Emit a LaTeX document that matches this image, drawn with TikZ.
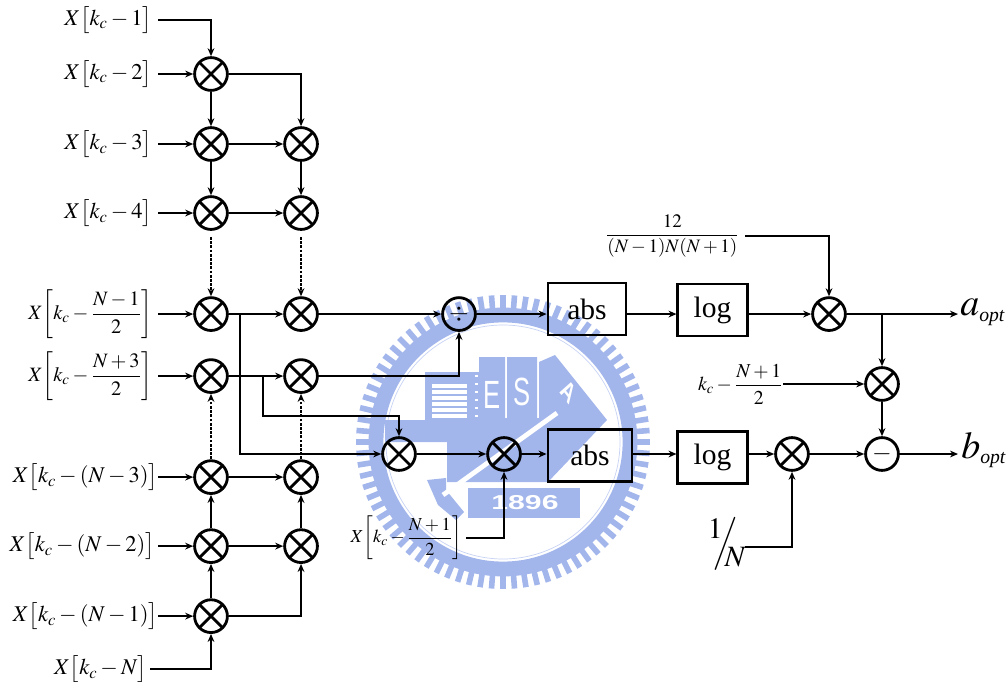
\documentclass[tikz,border=0pt]{standalone}
\usepackage{amsmath}
\usepackage{mathptmx}
\usepackage{fontspec}
\setmainfont{Liberation Serif}
\setsansfont{Liberation Sans}
\usetikzlibrary{positioning, arrows.meta}
\definecolor{sealblue}{RGB}{162,182,236}
\newcommand{\fsize}[1]{\fontsize{#1}{#1}\selectfont}
\begin{document}
\begin{tikzpicture}[
    x=0.025cm, y=-0.025cm,
    on grid,
    >=Stealth,
    mul/.style={draw, circle, inner sep=0pt, minimum size=0.82cm, line width=2pt,
                path picture={\draw[line width=2pt]
                  (path picture bounding box.north west) -- (path picture bounding box.south east)
                  (path picture bounding box.north east) -- (path picture bounding box.south west);}},
    opcirc/.style={draw, circle, inner sep=0pt, minimum size=0.82cm, line width=2pt, font=\fsize{18}},
    block/.style={draw, inner sep=0pt, line width=2pt, font=\fsize{21}, minimum height=1.3cm},
    io/.style={inner sep=0pt, outer xsep=0.15cm, anchor=east, font=\fsize{16}},
    iofrac/.style={io, font=\fsize{14.5}},
    iosmall/.style={inner sep=0pt, outer xsep=0.1cm, anchor=east, font=\fsize{13}},
    arr/.style={draw, -{Stealth[length=0.2cm, width=0.17cm]}, line width=1.8pt},
    dotarr/.style={arr, dash pattern=on 2pt off 1pt},
    seallabel/.style={inner sep=0pt, text=white, font=\sffamily\fsize{28}, xscale=0.65},
]
\useasboundingbox (0,0) rectangle (1006,682);

% --- Seal behind the diagram ---
\begin{scope}[shift={(503,442)}]
  \foreach \a in {0,4.5,...,355.5} {
    \draw[sealblue, line width=0.14cm] (\a:128) -- (\a:147);
  }
  \draw[sealblue, line width=0.37cm] (0,0) circle (127);
  \draw[sealblue!60, line width=0.5pt] (0,0) circle (117);
\end{scope}
\fill[sealblue] (385,420) -- (607,420) -- (555,355) -- (539,362) -- (539,418) -- (537,418)
  -- (537,357) -- (507,357) -- (507,418) -- (505,418) -- (505,357) -- (479,357) -- (479,372)
  -- (425,372) -- (425,420) -- (385,420) -- (385,442) -- (447,442) -- (447,482) -- (548,482) -- (607,420) -- cycle;
\fill[sealblue] (427,480) -- (446,478) -- (446,490) -- (464,512) -- (456,520) -- (438,505) -- cycle;
\fill[sealblue] (468,488) rectangle (580,518);
\foreach \y in {386,392,...,416} {
  \draw[white, line width=0.08cm] (432,\y) -- (467,\y);
}
\foreach \y in {376,384,...,416} {
  \draw[white, line width=0.06cm] (475,\y) -- (478,\y);
}
\draw[white, line width=0.12cm] (443,495) -- (557,413);
\node[seallabel] (sealE) at (492,395) {E};
\node[seallabel] (sealS) at (522,392) {S};
\node[seallabel, rotate=-40, font=\sffamily\bfseries\fsize{20}, xscale=1] (sealA) at (569,392) {A};
\node[seallabel, font=\sffamily\bfseries\fsize{22}, xscale=1.5, yscale=0.65] (sealyear) at (525,503) {1896};

% --- Adder chain, first column ---
\node[mul] (m1) at (211,74) {};
\node[mul, below=1.75cm of m1] (m2) {};
\node[mul, below=1.725cm of m2] (m3) {};
\node[mul, below=2.525cm of m3] (m4) {};
\node[mul, below=1.55cm of m4] (m5) {};
\node[mul, below=2.525cm of m5] (m6) {};
\node[mul, below=1.725cm of m6] (m7) {};
\node[mul, below=1.75cm of m7] (m8) {};

% second column
\node[mul, right=2.25cm of m2] (n2) {};
\node[mul, right=2.25cm of m3] (n3) {};
\node[mul, right=2.25cm of m4] (n4) {};
\node[mul, right=2.25cm of m5] (n5) {};
\node[mul, right=2.25cm of m6] (n6) {};
\node[mul, right=2.25cm of m7] (n7) {};

% --- Inputs ---
\node[io] (x1) at (158,20) {$X\big[k_c-1\big]$};
\node[io] (x2) at (158,0 |- m1) {$X\big[k_c-2\big]$};
\node[io] (x3) at (158,0 |- m2) {$X\big[k_c-3\big]$};
\node[io] (x4) at (158,0 |- m3) {$X\big[k_c-4\big]$};
\node[iofrac] (x5) at (158,0 |- m4) {$X\!\left[k_c-\dfrac{N-1}{2}\right]$};
\node[iofrac] (x6) at (158,0 |- m5) {$X\!\left[k_c-\dfrac{N+3}{2}\right]$};
\node[io, outer xsep=0pt] (x7) at (158,0 |- m6) {$X\big[k_c-(N-3)\big]$};
\node[io, outer xsep=0.08cm] (x8) at (158,0 |- m7) {$X\big[k_c-(N-2)\big]$};
\node[io, outer xsep=0pt] (x9) at (158,0 |- m8) {$X\big[k_c-(N-1)\big]$};
\node[io, outer xsep=0.08cm] (x10) at (150,669) {$X\big[k_c-N\big]$};

% --- Middle ---
\node[opcirc] (div) at (459,0 |- m4) {$\div$};
\node[mul] (s1) at (399,454) {};
\node[mul, right=2.625cm of s1] (s2) {};
\node[iosmall] (xs) at (466,538) {$X\!\left[k_c-\dfrac{N+1}{2}\right]$};

\node[block, minimum width=1.95cm] (abs1) at (587,309) {abs};
\node[block, minimum width=2.1cm] (abs2) at (590,455.5) {abs};
\node[block, minimum width=1.73cm] (log1) at (712.5,310) {log};
\node[block, minimum width=1.73cm] (log2) at (712.5,457.5) {log};

% --- Right side ---
\node[mul] (t1) at (829,0 |- m4) {};
\node[mul] (t2) at (882,384) {};
\node[mul] (t3) at (792,0 |- s1) {};
\node[opcirc] (minus) at (882,0 |- s1) {$-$};

\node[iosmall, font=\fsize{13.5}, outer xsep=0.15cm] (coef) at (745,236) {$\dfrac{12}{(N-1)N(N+1)}$};
\node[iosmall, font=\fsize{14}, outer xsep=0pt] (kc) at (783,0 |- t2) {$k_c-\dfrac{N+1}{2}$};
\node[io, anchor=center, outer xsep=0pt, font=\fsize{21}] (oneN) at (727,544)
  {$\raisebox{0.42em}{$1$}\kern-0.3em\Big/\kern-0.45em\raisebox{-0.5em}{$N$}$};
\coordinate (oneNout) at (745,547);

\node[inner sep=0pt, anchor=west, font=\fsize{27}] (aopt) at (960,312)
  {$a_{\hbox{\fsize{14}\itshape opt}}$};
\node[inner sep=0pt, anchor=west, font=\fsize{27}] (bopt) at (961,450)
  {$b_{\hbox{\fsize{14}\itshape opt}}$};
\coordinate (aend) at (958,0 |- t1);
\coordinate (bend) at (958,0 |- minus);

% --- Junctions ---
\coordinate (j1) at (240,0 |- m4);
\coordinate (j2) at (263,0 |- m5);
\coordinate (j3) at (263,416);
\coordinate (j4) at (t2 |- t1);

% --- Arrows, first column ---
\draw[arr] (x1.east) -| (m1);
\draw[arr] (m1) -- (m2);
\draw[arr] (m2) -- (m3);
\draw[dotarr, shorten <=0.15cm] (m3) -- (m4);
\draw[dotarr] (m6) -- (m5);
\draw[arr] (m7) -- (m6);
\draw[arr] (m8) -- (m7);
\draw[arr] (x10.east) -| (m8);

% inputs
\foreach \i/\m in {2/m1,3/m2,4/m3,5/m4,6/m5,7/m6,8/m7,9/m8} {
  \draw[arr] (x\i.east) -- (\m);
}

% second column
\draw[arr] (m1) -| (n2);
\draw[arr] (m2) -- (n2);
\draw[arr] (m3) -- (n3);
\draw[arr] (m4) -- (n4);
\draw[arr] (m5) -- (n5);
\draw[arr] (m6) -- (n6);
\draw[arr] (m7) -- (n7);
\draw[arr] (m8) -| (n7);
\draw[arr] (n2) -- (n3);
\draw[dotarr, shorten <=0.15cm] (n3) -- (n4);
\draw[dotarr] (n6) -- (n5);
\draw[arr] (n7) -- (n6);

% to the middle
\draw[arr] (n4) -- (div);
\draw[arr] (n5) -| (div);
\draw[arr] (j1) |- (s1);
\draw[arr] (j2) -- (j3) -| (s1);
\draw[arr] (s1) -- (s2);
\draw[arr] (xs.east) -| (s2);
\draw[arr] (div) -- (div -| abs1.west);
\draw[arr] (s2) -- (s2 -| abs2.west);
\draw[arr] (div -| abs1.east) -- (div -| log1.west);
\draw[arr] (s2 -| abs2.east) -- (s2 -| log2.west);

% right side
\draw[arr] (t1 -| log1.east) -- (t1);
\draw[arr] (t3 -| log2.east) -- (t3);
\draw[arr] (coef.east) -| (t1);
\draw[arr] (t1) -- (aend);
\draw[arr] (j4) -- (t2);
\draw[arr] (kc.east) -- (t2);
\draw[arr] (t2) -- (minus);
\draw[arr] (t3) -- (minus);
\draw[arr] (minus) -- (bend);
\draw[arr] (oneNout) -| (t3);
\end{tikzpicture}
\end{document}
